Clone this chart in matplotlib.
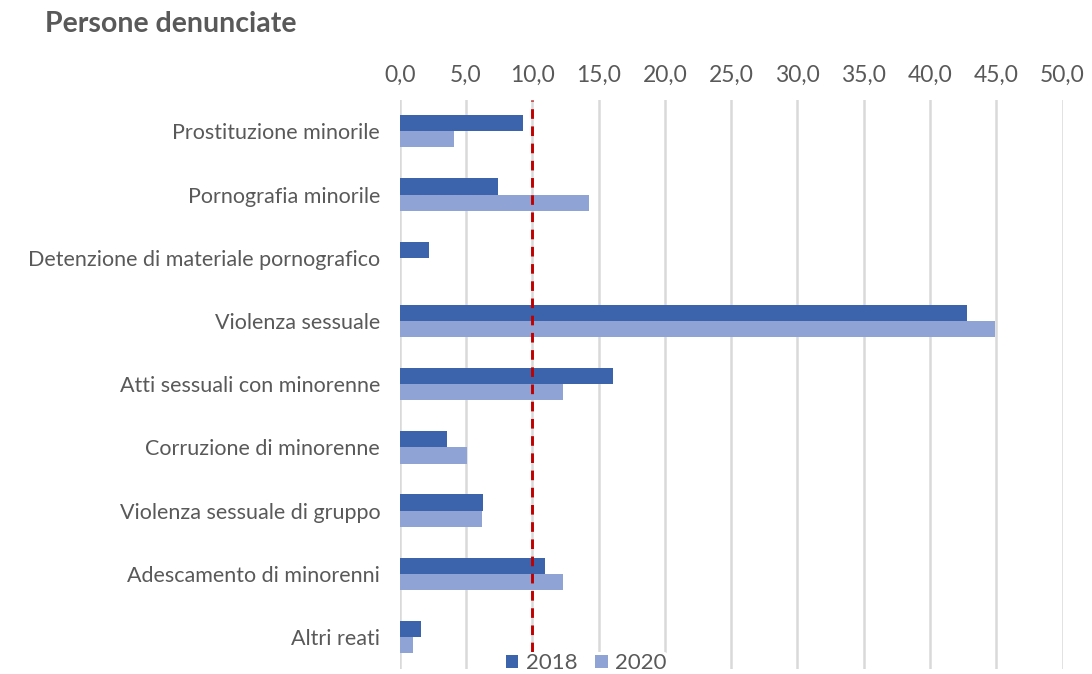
import matplotlib.pyplot as plt
import numpy as np

plt.rcParams['font.family'] = ['Lato', 'DejaVu Sans']

# dati
categorie = ['Prostituzione minorile', 'Pornografia minorile',
             'Detenzione di materiale pornografico', 'Violenza sessuale',
             'Atti sessuali con minorenne', 'Corruzione di minorenne',
             'Violenza sessuale di gruppo', 'Adescamento di minorenni',
             'Altri reati']
v2018 = [9.3, 7.4, 2.2, 42.8, 16.1, 3.6, 6.3, 11.0, 1.6]
v2020 = [4.1, 14.3, 0.0, 44.9, 12.3, 5.1, 6.2, 12.3, 1.0]
soglia = 10.0
xticks = np.arange(0, 55, 5)

c18 = '#3C64AC'
c20 = '#8FA4D4'
grigio = '#595959'

fig = plt.figure(figsize=(10.92, 6.74), dpi=100)
ax = fig.add_axes([0.366, 0.008, 0.607, 0.844])

y = np.arange(len(categorie))
h = 0.255
ax.barh(y - h/2, v2018, height=h, color=c18, label='2018', zorder=3)
ax.barh(y + h/2, v2020, height=h, color=c20, label='2020', zorder=3)

ax.axvline(soglia, color='#C00000', linestyle=(0, (3.3, 2.6)), linewidth=2.1, zorder=4)

ax.set_xlim(0, 50)
ax.set_ylim(len(categorie) - 0.5, -0.5)
ax.set_xticks(xticks)
ax.set_xticklabels([f'{t:.1f}'.replace('.', ',') for t in xticks])
ax.xaxis.tick_top()
ax.set_yticks(y)
ax.set_yticklabels(categorie)
ax.tick_params(axis='x', length=0, labelsize=16.5, colors=grigio, pad=10)
ax.tick_params(axis='y', length=0, labelsize=15.5, colors=grigio, pad=14)
ax.grid(axis='x', color='#D9D9D9', linewidth=1.8, zorder=0)
for s in ax.spines.values():
    s.set_visible(False)

fig.text(0.041, 0.965, 'Persone denunciate', fontsize=20.5, fontweight='bold',
         color=grigio, va='center')

leg = fig.legend(loc='center', bbox_to_anchor=(0.537, 0.016), ncol=2, frameon=True,
                 fontsize=16, labelcolor=grigio, handlelength=0.55, handleheight=0.55,
                 handletextpad=0.35, columnspacing=0.8, borderpad=0.05)
leg.get_frame().set_facecolor('white')
leg.get_frame().set_edgecolor('none')
leg.get_frame().set_alpha(1)

fig.savefig('out.png', dpi=100)
